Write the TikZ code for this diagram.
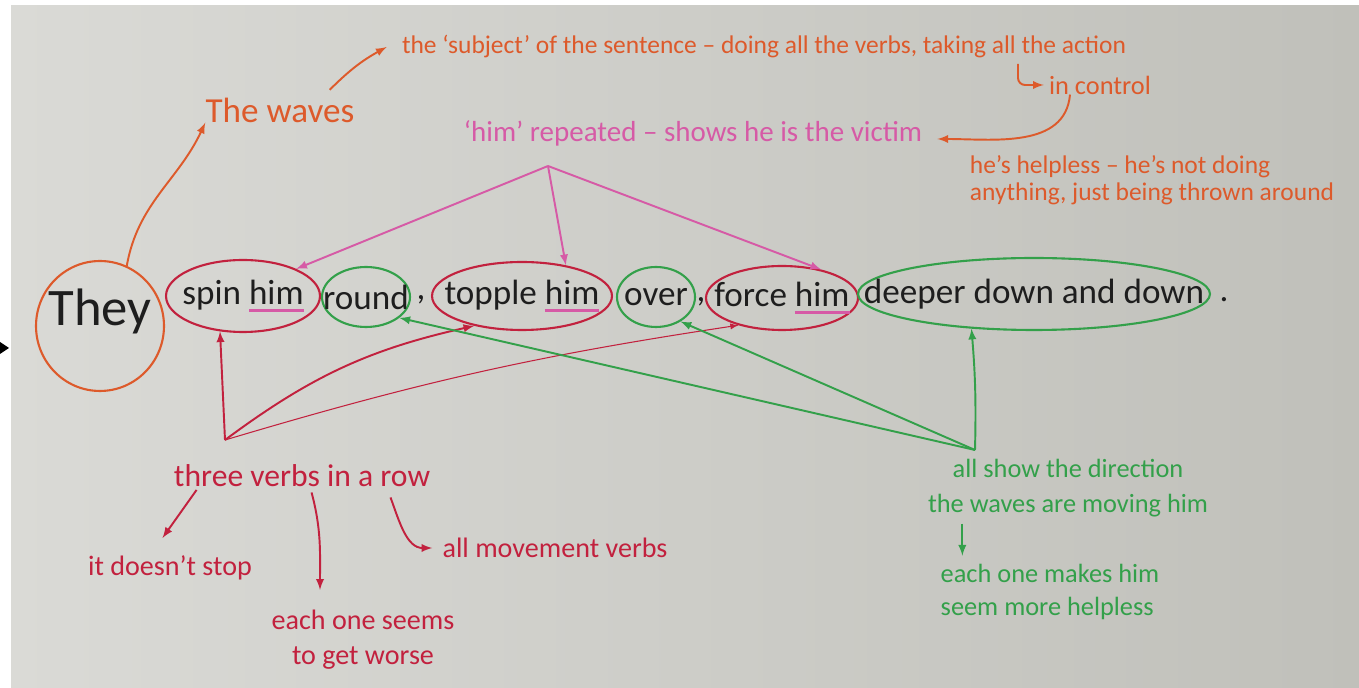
\documentclass[tikz,border=0pt]{standalone}
\usepackage{fontspec}
\setmainfont{Carlito}
\usetikzlibrary{arrows,positioning,shapes.geometric,calc}

\definecolor{penorange}{HTML}{DD5A2B}
\definecolor{penpink}{HTML}{D65AA6}
\definecolor{penred}{HTML}{C2213E}
\definecolor{pengreen}{HTML}{33A04A}
\definecolor{inkblack}{HTML}{1E1E1E}
\definecolor{paperleft}{HTML}{DADAD6}
\definecolor{paperright}{HTML}{C0C0BA}

\newcommand\handsize[2]{\fontsize{#1}{#2}\selectfont}
\newcommand\himline[1]{\setbox0\hbox{#1}\rlap{\color{penpink}\rule[-4pt]{\wd0}{1.3pt}}#1}

\tikzset{
  ring/.style={draw=#1, ellipse, line width=1.2pt, inner sep=0pt},
  word/.style={label={[inner sep=0pt, text=inkblack, font=\handsize{20}{24}]center:#1}},
  note/.style={text=#1, inner sep=0pt},
  pen/.style={draw=#1, line width=1.1pt, ->, >=latex}
}

\begin{document}
\begin{tikzpicture}[x=0.02cm, y=-0.02cm]
\useasboundingbox (0,0) rectangle (1359,688);
\fill[white] (0,0) rectangle (1359,688);
\shade[left color=paperleft, right color=paperright] (11,6) rectangle (1359,688);
\fill[black] (0,342) -- (9,348) -- (0,354) -- cycle;

% the sentence
\node[ring=penorange, minimum width=2.56cm, minimum height=2.6cm,
  label={[inner sep=0pt, text=inkblack, font=\handsize{30}{36}, yshift=0.3cm]center:They}] (they) at (100,326) {};
\node[ring=penred, minimum width=3.08cm, minimum height=1.44cm, word={spin \himline{him}}] (spin) at (243,296) {};
\node[ring=pengreen, minimum width=1.76cm, minimum height=1.2cm, word=round] (round) at (366,297) {};
\node[text=inkblack, font=\handsize{20}{24}] (comma1) at (421,300) {,};
\node[ring=penred, minimum width=3.6cm, minimum height=1.36cm, word={topple \himline{him}}] (topple) at (522,296) {};
\node[ring=pengreen, minimum width=1.56cm, minimum height=1.2cm, word=over] (over) at (656,297) {};
\node[text=inkblack, font=\handsize{20}{24}] (comma2) at (701,302) {,};
\node[ring=penred, minimum width=3.04cm, minimum height=1.28cm, word={force \himline{him}}] (force) at (782,298) {};
\node[ring=pengreen, minimum width=7.04cm, minimum height=1.44cm, word={deeper down and down}] (deeper) at (1034,294) {};
\node[text=inkblack, font=\handsize{20}{24}] (stop) at (1224,300) {.};

% notes
\node[note=penorange, font=\handsize{20}{24}] (waves) at (280,110) {The waves};
\node[note=penorange, font=\handsize{14.5}{17}] (subject) at (764,47) {the ‘subject’ of the sentence – doing all the verbs, taking all the action};
\node[note=penorange, font=\handsize{15}{18}] (incontrol) at (1100,85) {in control};
\node[note=penpink, font=\handsize{16.5}{19}] (victim) at (693,133) {‘him’ repeated – shows he is the victim};
\node[note=penorange, font=\handsize{14.5}{15.5}, align=left] (helpless) at (1152,180) {he’s helpless – he’s not doing\\anything, just being thrown around};
\node[note=penred, font=\handsize{18}{22}] (verbs) at (302,476) {three verbs in a row};
\node[note=penred, font=\handsize{16}{19}] (nostop) at (170,568) {it doesn’t stop};
\node[note=penred, font=\handsize{16}{20}, align=center] (worse) at (363,640) {each one seems\\to get worse};
\node[note=penred, font=\handsize{16}{19}] (movement) at (555,548) {all movement verbs};
\node[note=pengreen, font=\handsize{15}{20}, align=center] (direction) at (1068,488) {all show the direction\\the waves are moving him};
\node[note=pengreen, font=\handsize{15}{19}, align=left] (makes) at (1050,592) {each one makes him\\seem more helpless};

% orange arrows
\draw[pen=penorange] (they.66) to[out=80,in=-115] (waves.south west);
\draw[pen=penorange] ([xshift=-0.5cm,yshift=0.15cm]waves.north east) to[bend left=8] ([xshift=-0.3cm]subject.west);
\coordinate (hook) at (1018,64);
\draw[pen=penorange, rounded corners=4pt] (hook) |- ([xshift=-0.1cm]incontrol.west);
\draw[pen=penorange] ([xshift=-0.6cm]incontrol.south) to[out=-95,in=0] ([xshift=0.3cm,yshift=-0.12cm]victim.east);

% pink arrows
\coordinate (himfork) at (548,166);
\foreach \w/\a in {spin/27, topple/35, force/36}
  \draw[pen=penpink] (himfork) -- (\w.\a);

% red arrows
\coordinate (verbfork) at (225,440);
\draw[pen=penred] (verbfork) -- (spin.237);
\draw[pen=penred] (verbfork) to[bend left=12] (topple.212);
\draw[pen=penred, line width=0.6pt] (verbfork) to[bend left=4] (force.212);
\draw[pen=penred] ([xshift=0.46cm,yshift=-0.05cm]verbs.south west) -- ([shift={(-0.15cm,0.35cm)}]nostop.north);
\draw[pen=penred] ([xshift=2.76cm,yshift=-0.1cm]verbs.south west) to[out=-75,in=90] ([shift={(-0.86cm,0.4cm)}]worse.north);
\draw[pen=penred] ([xshift=4.34cm,yshift=-0.2cm]verbs.south west) to[out=-70,in=180] ([xshift=-0.2cm]movement.west);

% green arrows
\coordinate (dirfork) at (975,450);
\draw[pen=pengreen] (dirfork) -- (round.-32);
\draw[pen=pengreen] (dirfork) -- (over.-45);
\draw[pen=pengreen] (dirfork) to[bend right=3] (deeper.209);
\draw[pen=pengreen] ($(makes.north west)+(22,-40)$) -- ($(makes.north west)+(22,-8)$);
\end{tikzpicture}
\end{document}
